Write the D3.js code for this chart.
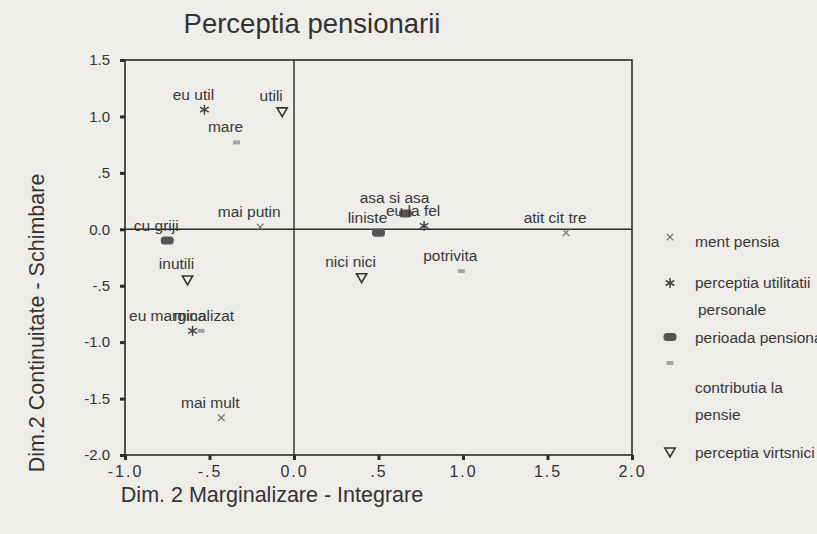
<!DOCTYPE html>
<html>
<head>
<meta charset="utf-8">
<script src="https://cdn.jsdelivr.net/npm/d3@7"></script>
<style>
  html, body { margin: 0; padding: 0; background: #eeede9; }
  svg { display: block; font-family: "Liberation Sans", Arial, sans-serif; }
</style>
</head>
<body>
<div id="chart"></div>
<script>
// --- DATE ---
const title = "Perceptia pensionarii";
const xTitle = "Dim. 2 Marginalizare - Integrare";
const yTitle = "Dim.2 Continuitate - Schimbare";
const xTicks = [-1.0, -0.5, 0.0, 0.5, 1.0, 1.5, 2.0];
const yTicks = [1.5, 1.0, 0.5, 0.0, -0.5, -1.0, -1.5, -2.0];
const tickFmt = v => v === 0 ? "0.0" : (Math.abs(v) < 1 ? (v < 0 ? "-" : "") + "." + String(Math.abs(v)).split(".")[1] : v.toFixed(1));

// variabile (ordinea din legenda)
const series = ["merit", "utilitate", "perioada", "contributia", "virstnici"];
const legendLabels = [["ment pensia"], ["perceptia utilitatii", "personale"], ["perioada pensionarii"], ["contributia la", "pensie"], ["perceptia virtsnici"]];

// categorii: [eticheta, x, y]
const meritPts = [["mai putin", -0.20, 0.02], ["atit cit tre", 1.61, -0.03], ["mai mult", -0.43, -1.67]];
const utilPts = [["eu util", -0.53, 1.06], ["eu la fel", 0.77, 0.03], ["eu marginalizat", -0.60, -0.90]];
const perioadaPts = [["cu griji", -0.75, -0.10], ["liniste", 0.50, -0.03], ["asa si asa", 0.66, 0.14]];
const contribPts = [["mare", -0.34, 0.77], ["potrivita", 0.99, -0.37], ["mica", -0.55, -0.90]];
const virstniciPts = [["utili", -0.07, 1.05], ["nici nici", 0.40, -0.42], ["inutili", -0.63, -0.44]];
const allPts = [meritPts, utilPts, perioadaPts, contribPts, virstniciPts];

// --- CONFIGURARE ---
const W = 817, H = 534;
const ink = "#2b2b2b";
const svg = d3.select("#chart").append("svg").attr("width", W).attr("height", H);

const x = d3.scaleLinear().domain([-1, 2]).range([125, 632]);
const y = d3.scaleLinear().domain([-2, 1.5]).range([455, 60]);

// cadru
svg.append("rect")
  .attr("x", x(-1)).attr("y", y(1.5))
  .attr("width", x(2) - x(-1)).attr("height", y(-2) - y(1.5))
  .attr("fill", "none").attr("stroke", ink).attr("stroke-width", 1.6);

// linii de referinta
svg.append("line").attr("x1", x(-1)).attr("x2", x(2)).attr("y1", y(0)).attr("y2", y(0))
  .attr("stroke", ink).attr("stroke-width", 1.4);
svg.append("line").attr("x1", x(0)).attr("x2", x(0)).attr("y1", y(1.5)).attr("y2", y(-2))
  .attr("stroke", ink).attr("stroke-width", 1.4);

// axe
const gx = svg.append("g").attr("transform", `translate(0,${y(-2)})`)
  .call(d3.axisBottom(x).tickValues(xTicks).tickFormat(tickFmt).tickSize(5).tickPadding(6));
const gy = svg.append("g").attr("transform", `translate(${x(-1)},0)`)
  .call(d3.axisLeft(y).tickValues(yTicks).tickFormat(tickFmt).tickSize(5).tickPadding(10));
[gx, gy].forEach(g => {
  g.select(".domain").remove();
  g.selectAll(".tick line").attr("stroke", ink).attr("stroke-width", 3);
  g.selectAll(".tick text").attr("fill", "#333").style("font-family", "Liberation Sans, Arial, sans-serif");
});
gx.selectAll(".tick text").style("font-size", "16px").style("letter-spacing", "2px");
gy.selectAll(".tick text").style("font-size", "15px");

// titluri
svg.append("text").attr("x", 312).attr("y", 33).attr("text-anchor", "middle")
  .attr("fill", "#333").style("font-size", "27.5px").text(title);
svg.append("text").attr("x", 272).attr("y", 502).attr("text-anchor", "middle")
  .attr("fill", "#333").style("font-size", "21.5px").text(xTitle);
svg.append("text").attr("transform", "translate(44,323) rotate(-90)").attr("text-anchor", "middle")
  .attr("fill", "#333").style("font-size", "21.5px").text(yTitle);

// --- MARCAJE ---
function drawMarker(g, s) {
  if (s === "merit") {
    g.append("path").attr("d", d3.symbol(d3.symbolX, 30)()).attr("fill", "none")
      .attr("stroke", "#777").attr("stroke-width", 1.2);
  } else if (s === "utilitate") {
    g.append("path").attr("d", d3.symbol(d3.symbolAsterisk, 70)()).attr("fill", "none")
      .attr("stroke", "#444").attr("stroke-width", 1.5);
  } else if (s === "perioada") {
    g.append("rect").attr("x", -6.5).attr("y", -4).attr("width", 13).attr("height", 8).attr("rx", 3.5)
      .attr("fill", "#555");
  } else if (s === "contributia") {
    g.append("rect").attr("x", -3.5).attr("y", -2).attr("width", 7).attr("height", 4)
      .attr("fill", "#a5a5a5");
  } else {
    g.append("path").attr("d", d3.symbol(d3.symbolTriangle2, 75)()).attr("transform", "rotate(180)")
      .attr("fill", "none").attr("stroke", "#333").attr("stroke-width", 1.6);
  }
}

const gPts = svg.append("g");
allPts.forEach((pts, i) => {
  const s = series[i];
  pts.forEach(p => {
    const g = gPts.append("g").attr("transform", `translate(${x(p[1])},${y(p[2])})`);
    drawMarker(g, s);
  });
});

// etichete
const gLab = svg.append("g");
allPts.forEach(pts => {
  pts.forEach(p => {
    gLab.append("text").attr("x", x(p[1]) - 11).attr("y", y(p[2]) - 10)
      .attr("text-anchor", "middle").attr("fill", "#383838").style("font-size", "15.5px").text(p[0]);
  });
});

// --- LEGENDA ---
const legMarkY = [237, 283, 337, 363, 451];
const legTextY = [247, 288, 343, 393, 458];
const gLeg = svg.append("g");
series.forEach((s, i) => {
  const g = gLeg.append("g").attr("transform", `translate(670,${legMarkY[i]})`);
  drawMarker(g, s);
  legendLabels[i].forEach((t, j) => {
    gLeg.append("text").attr("x", 695 + (j > 0 && i === 1 ? 3 : 0)).attr("y", legTextY[i] + j * 27)
      .attr("fill", "#383838").style("font-size", "15.5px").text(t);
  });
});
</script>
</body>
</html>
